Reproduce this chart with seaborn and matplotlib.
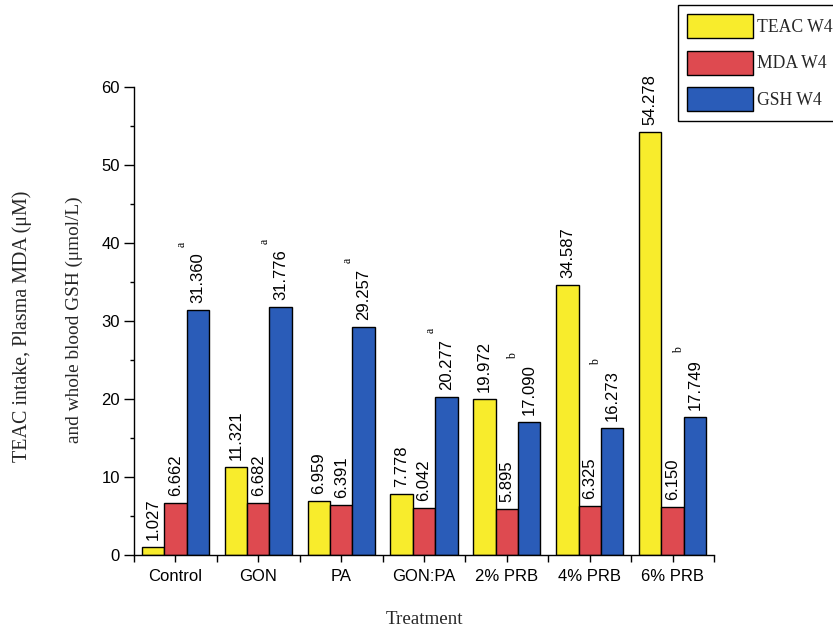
import matplotlib
matplotlib.use("Agg")
import matplotlib.pyplot as plt
from matplotlib.patches import Patch
from matplotlib.ticker import MultipleLocator, FixedLocator
import pandas as pd
import seaborn as sns

# Week-4 measurements per treatment
treatments = ["Control", "GON", "PA", "GON:PA", "2% PRB", "4% PRB", "6% PRB"]
teac_w4 = [1.027, 11.321, 6.959, 7.778, 19.972, 34.587, 54.278]
mda_w4 = [6.662, 6.682, 6.391, 6.042, 5.895, 6.325, 6.150]
gsh_w4 = [31.360, 31.776, 29.257, 20.277, 17.090, 16.273, 17.749]
gsh_letters = ["a", "a", "a", "a", "b", "b", "b"]

series_names = ["TEAC W4", "MDA W4", "GSH W4"]
series_values = [teac_w4, mda_w4, gsh_w4]
series_colors = ["#F8EC2C", "#DE4A50", "#2A5CB8"]

df = pd.DataFrame({
    "Treatment": treatments * 3,
    "Series": [s for s in series_names for _ in treatments],
    "Value": teac_w4 + mda_w4 + gsh_w4,
})

sns.set_style("ticks")
plt.rcParams["font.family"] = ["Liberation Sans", "DejaVu Sans"]
serif = ["Liberation Serif", "DejaVu Serif"]

W, H = 833, 635
fig = plt.figure(figsize=(W / 100, H / 100), dpi=100)
ax = fig.add_axes([134 / W, 1 - 555 / H, (714 - 134) / W, (555 - 87) / H])

sns.barplot(
    data=df, x="Treatment", y="Value", hue="Series",
    order=treatments, hue_order=series_names, palette=series_colors,
    saturation=1, edgecolor="black", linewidth=1.0, width=0.81,
    errorbar=None, legend=False, ax=ax,
)

ax.set_xlim(-0.5, 6.5)
ax.set_ylim(0, 60)
for side in ("top", "right"):
    ax.spines[side].set_visible(False)
for side in ("left", "bottom"):
    ax.spines[side].set_color("black")
    ax.spines[side].set_linewidth(1.0)

ax.yaxis.set_major_locator(MultipleLocator(10))
ax.yaxis.set_minor_locator(MultipleLocator(5))
ax.xaxis.set_minor_locator(FixedLocator([i - 0.5 for i in range(len(treatments) + 1)]))
ax.tick_params(axis="y", which="major", direction="out", length=7, width=1,
               labelsize=12, colors="black", pad=3)
ax.tick_params(axis="y", which="minor", direction="out", length=3, width=1, colors="black")
ax.tick_params(axis="x", which="both", direction="out", length=5, width=1,
               labelsize=12, colors="black", pad=5)
ax.set_xlabel("")
ax.set_ylabel("")

# value labels above every bar
for container, vals in zip(ax.containers, series_values):
    ax.bar_label(container, labels=[f"{v:.3f}" for v in vals], rotation=90,
                 padding=5, fontsize=12, color="black")

# significance letters next to the GSH labels
for bar, letter in zip(ax.containers[2], gsh_letters):
    xc = bar.get_x() + bar.get_width() / 2
    ax.annotate(letter, xy=(xc, bar.get_height()), xytext=(-16, 66),
                textcoords="offset pixels", rotation=90, ha="center",
                va="center", fontsize=8.5, family=serif, color="black")

fig.text(424 / W, 1 - 620 / H, "Treatment", ha="center", va="center",
         fontsize=13.7, family=serif)
fig.text(22 / W, 1 - 326 / H, "TEAC intake, Plasma MDA (μM)", rotation=90,
         ha="center", va="center", fontsize=14.4, family=serif)
fig.text(74 / W, 1 - 320 / H, "and whole blood GSH (μmol/L)", rotation=90,
         ha="center", va="center", fontsize=13.9, family=serif)

handles = [Patch(facecolor=c, edgecolor="black", linewidth=1.0) for c in series_colors]
leg = fig.legend(handles, series_names, loc="upper left",
                 bbox_to_anchor=(678 / W, 1 - 5 / H), frameon=True,
                 fancybox=False, edgecolor="black", framealpha=1,
                 prop={"family": serif, "size": 12.7}, handlelength=3.74,
                 handleheight=1.72, labelspacing=0.71, borderpad=0.52,
                 handletextpad=0.24, borderaxespad=0)
leg.get_frame().set_linewidth(1.0)

fig.savefig("out.png", dpi=100)
